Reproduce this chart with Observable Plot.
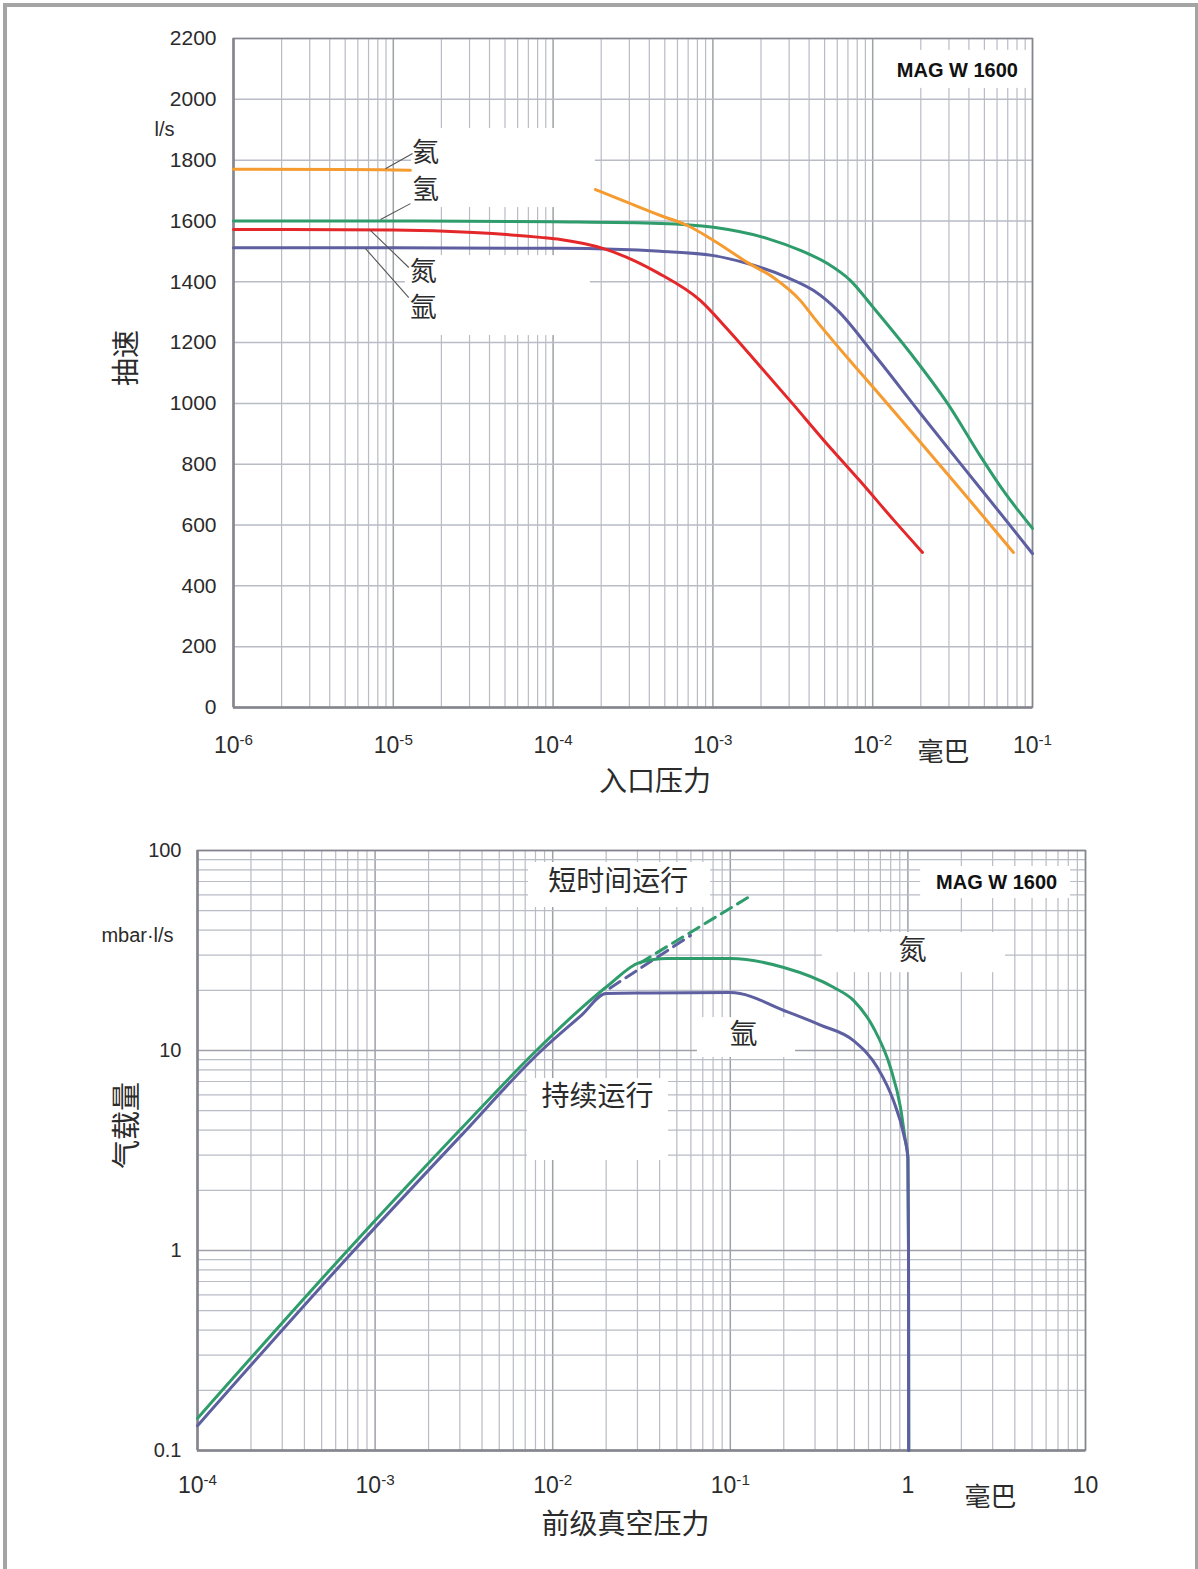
<!DOCTYPE html>
<html><head><meta charset="utf-8">
<script src="https://cdn.jsdelivr.net/npm/d3@7"></script>
<script src="https://cdn.jsdelivr.net/npm/@observablehq/plot@0.6"></script>
<style>
body{margin:0;background:#fff;}
#page{position:relative;width:1198px;height:1569px;overflow:hidden;background:#fff;}
#border{position:absolute;left:3px;top:3px;width:1188px;height:1600px;border-left:4px solid #a4a4a4;border-top:4px solid #a4a4a4;border-right:3px solid #a4a4a4;}
#top{position:absolute;left:0;top:0;}
#bottom{position:absolute;left:0;top:800px;}
</style></head>
<body><div id="page"><div id="border"></div><div id="top"></div><div id="bottom"></div></div>
<script>
// ---------------- data: upper chart (pumping speed vs inlet pressure) ----------------
const topPressureTicks = [1e-6, 1e-5, 1e-4, 1e-3, 1e-2, 1e-1];
const topPressureTickLabels = ["10^-6", "10^-5", "10^-4", "10^-3", "10^-2", "10^-1"];
const topSpeedTicks = [0, 200, 400, 600, 800, 1000, 1200, 1400, 1600, 1800, 2000, 2200];
const topSpeedTickLabels = ["0", "200", "400", "600", "800", "1000", "1200", "1400", "1600", "1800", "2000", "2200"];

// helium (氦) – gap where the label box hides the curve
const heliumP = [1e-6, 5e-6, 1.28e-5, 5e-5, 1.84e-4, 2.92e-4, 4.70e-4, 6.93e-4, 1.01e-3, 1.65e-3, 2.39e-3, 3.53e-3, 4.27e-3, 6.95e-3, 1.01e-2, 1.99e-2, 3.54e-2, 7.6e-2];
const heliumS = [1770, 1769, 1767, NaN, 1703, 1661, 1618, 1585, 1536, 1463, 1414, 1338, 1283, 1150, 1052, 872, 718, 510];
// hydrogen (氢)
const hydrogenP = [1e-6, 1e-5, 1e-4, 4.70e-4, 1.01e-3, 2.20e-3, 3.53e-3, 5.21e-3, 7.26e-3, 1.01e-2, 1.73e-2, 2.94e-2, 4.73e-2, 6.59e-2, 1e-1];
const hydrogenS = [1600, 1600, 1597, 1592, 1579, 1542, 1503, 1460, 1404, 1315, 1164, 1000, 826, 712, 589];
// nitrogen (氮)
const nitrogenP = [1e-6, 1e-5, 3.18e-5, 8.34e-5, 1.11e-4, 2.07e-4, 4.50e-4, 8.36e-4, 1.23e-3, 1.99e-3, 3.19e-3, 4.92e-3, 8.39e-3, 1.35e-2, 2.05e-2];
const nitrogenS = [1572, 1570, 1562, 1546, 1539, 1509, 1430, 1338, 1245, 1120, 996, 880, 743, 617, 510];
// argon (氩)
const argonP = [1e-6, 1e-5, 1.11e-4, 4.70e-4, 1.01e-3, 1.65e-3, 2.93e-3, 4.27e-3, 6.03e-3, 1.01e-2, 1.99e-2, 3.54e-2, 6.31e-2, 1e-1];
const argonS = [1512, 1512, 1510, 1500, 1486, 1460, 1414, 1371, 1306, 1164, 967, 802, 638, 506];

// ---------------- data: lower chart (gas throughput vs fore-vacuum pressure) ----------------
const botPressureTicks = [1e-4, 1e-3, 1e-2, 1e-1, 1, 10];
const botPressureTickLabels = ["10^-4", "10^-3", "10^-2", "10^-1", "1", "10"];
const botFlowTicks = [0.1, 1, 10, 100];
const botFlowTickLabels = ["0.1", "1", "10", "100"];

const n2ForeP = [1e-4, 7e-4, 3e-3, 8.1e-3, 1.45e-2, 2.06e-2, 3.08e-2, 4.4e-2, 0.1, 0.2, 0.381, 0.494, 0.640, 0.798, 0.908, 0.968, 1.0, 1.008, 1.011];
const n2ForeQ = [0.145, 1.0, 4.0, 10, 16.3, 21.2, 27.5, 28.8, 28.8, 26.0, 20.7, 17.8, 13.0, 8.2, 5.2, 3.55, 2.95, 1.0, 0.1];
const arForeP = [1e-4, 7.6e-4, 3e-3, 8.65e-3, 1.45e-2, 2.0e-2, 3.5e-2, 0.1, 0.21, 0.322, 0.494, 0.675, 0.830, 0.944, 1.0, 1.008, 1.011];
const arForeQ = [0.133, 1.0, 3.7, 10, 15.0, 19.3, 19.4, 19.5, 15.6, 13.4, 11.2, 8.2, 5.6, 3.85, 2.9, 1.0, 0.1];
// short-term operation (dashed)
const n2ShortP = [3.1e-2, 0.125];
const n2ShortQ = [27.4, 58];
const arShortP = [2.1e-2, 5.97e-2];
const arShortQ = [20.5, 37.6];

// ---------------- annotations ----------------
const topLabels = [
  {x: 1.59e-5, y: 1822, text: "氦"},
  {x: 1.59e-5, y: 1700, text: "氢"},
  {x: 1.54e-5, y: 1430, text: "氮"},
  {x: 1.54e-5, y: 1312, text: "氩"}
];
const topLeaders = [
  {x1: 8.93e-6, y1: 1772, x2: 1.32e-5, y2: 1822},
  {x1: 8.32e-6, y1: 1605, x2: 1.28e-5, y2: 1657},
  {x1: 7.19e-6, y1: 1569, x2: 1.25e-5, y2: 1447},
  {x1: 6.70e-6, y1: 1509, x2: 1.25e-5, y2: 1348}
];
const topBoxes = [
  {x1: 1.3e-5, x2: 1.84e-4, y1: 1644, y2: 1904},
  {x1: 1.19e-5, x2: 1.71e-4, y1: 1223, y2: 1486},
  {x1: 1.12e-2, x2: 9.3e-2, y1: 2036, y2: 2161}
];
const botLabels = [
  {x: 2.34e-2, y: 69.2, text: "短时间运行"},
  {x: 1.06, y: 31.6, text: "氮"},
  {x: 0.1186, y: 11.9, text: "氩"},
  {x: 1.79e-2, y: 5.82, text: "持续运行"}
];
const botBoxes = [
  {x1: 7.31e-3, x2: 7.74e-2, y1: 51.9, y2: 87.1},
  {x1: 0.330, x2: 3.55, y1: 24.5, y2: 38.9},
  {x1: 6.53e-2, x2: 0.233, y1: 9.23, y2: 14.6},
  {x1: 7.21e-3, x2: 4.49e-2, y1: 2.82, y2: 7.24},
  {x1: 1.18, x2: 8.24, y1: 57.5, y2: 83.2}
];

// ---------------- styling ----------------
const LATIN = "'Liberation Sans', Arial, Helvetica, sans-serif";
const CJK = "'Noto Sans CJK SC', 'Noto Sans', sans-serif";
const GRID = "#b9bbc5", GRID_MAJOR = "#9ea0aa", FRAME = "#85858d", TXT = "#2b2b2b";
const C_HE = "#f59b30", C_H2 = "#2f9c6c", C_N2 = "#e4282a", C_AR = "#5d5fa0";

const zip = (xs, ys) => xs.map((x, i) => ({x, y: ys[i]}));
function logGrid(lo, hi) {
  const out = [];
  for (let e = lo; e < hi; e++) for (let k = 2; k <= 9; k++) out.push(k * Math.pow(10, e));
  return out;
}
function superscripts(svg) {
  d3.select(svg).selectAll("text").each(function () {
    const m = /^10\^(-?\d+)$/.exec(this.textContent);
    if (!m) return;
    const s = d3.select(this);
    s.text(null);
    s.append("tspan").text("10");
    s.append("tspan").attr("dy", "-0.5em").attr("font-size", "0.66em").text(m[1]);
  });
}
const note = (txt, opts) => Plot.text([txt], {text: d => d, textAnchor: "middle", lineAnchor: "middle", fill: TXT, ...opts});

// ---------------- upper chart ----------------
const topPlot = Plot.plot({
  width: 1198, height: 800,
  marginTop: 38, marginBottom: 93, marginLeft: 233, marginRight: 166,
  style: {background: "transparent", fontFamily: LATIN},
  x: {type: "log", domain: [1e-6, 1e-1], axis: null},
  y: {domain: [0, 2200], axis: null},
  marks: [
    Plot.ruleX(logGrid(-6, -1), {stroke: GRID, strokeWidth: 1.2}),
    Plot.ruleX(topPressureTicks, {stroke: GRID_MAJOR, strokeWidth: 1.5}),
    Plot.ruleY(topSpeedTicks, {stroke: GRID, strokeWidth: 1.5}),
    Plot.rect(topBoxes, {x1: "x1", x2: "x2", y1: "y1", y2: "y2", fill: "white"}),
    Plot.frame({stroke: FRAME, strokeWidth: 1.5}),
    Plot.ruleX([1e-6], {stroke: FRAME, strokeWidth: 2.5}),
    Plot.ruleY([0], {stroke: FRAME, strokeWidth: 2.5}),
    Plot.line(zip(argonP, argonS), {x: "x", y: "y", stroke: C_AR, strokeWidth: 3, curve: "monotone-x"}),
    Plot.line(zip(hydrogenP, hydrogenS), {x: "x", y: "y", stroke: C_H2, strokeWidth: 3, curve: "monotone-x"}),
    Plot.line(zip(heliumP, heliumS), {x: "x", y: "y", stroke: C_HE, strokeWidth: 3, curve: "monotone-x"}),
    Plot.line(zip(nitrogenP, nitrogenS), {x: "x", y: "y", stroke: C_N2, strokeWidth: 3, curve: "monotone-x"}),
    Plot.link(topLeaders, {x1: "x1", y1: "y1", x2: "x2", y2: "y2", stroke: "#555", strokeWidth: 1.1}),
    Plot.text(topLabels, {x: "x", y: "y", text: "text", fontFamily: CJK, fontSize: 27, fill: TXT}),
    Plot.text(["MAG W 1600"], {x: 3.39e-2, y: 2095, text: d => d, fontFamily: LATIN, fontWeight: "bold", fontSize: 20, fill: "#111"}),
    Plot.axisY(topSpeedTicks, {tickSize: 0, tickPadding: 17, fontSize: 21, color: TXT, label: null,
      tickFormat: d => topSpeedTickLabels[topSpeedTicks.indexOf(d)]}),
    Plot.axisX(topPressureTicks, {tickSize: 0, tickPadding: 29, fontSize: 23, color: TXT, label: null,
      tickFormat: d => topPressureTickLabels[topPressureTicks.indexOf(d)]}),
    note("l/s", {y: 1900, frameAnchor: "left", dx: -69, fontSize: 20, fontFamily: LATIN}),
    note("毫巴", {frameAnchor: "bottom-right", dx: -89, dy: 45, fontSize: 26, fontFamily: CJK}),
    note("入口压力", {frameAnchor: "bottom", dx: 22, dy: 75, fontSize: 28, fontFamily: CJK}),
    note("抽速", {frameAnchor: "left", dx: -106, dy: -15, rotate: -90, fontSize: 28, fontFamily: CJK})
  ]
});
superscripts(topPlot);
document.getElementById("top").appendChild(topPlot);

// ---------------- lower chart ----------------
const botPlot = Plot.plot({
  width: 1198, height: 769,
  marginTop: 50, marginBottom: 119, marginLeft: 197, marginRight: 113,
  style: {background: "transparent", fontFamily: LATIN},
  x: {type: "log", domain: [1e-4, 10], axis: null},
  y: {type: "log", domain: [0.1, 100], axis: null},
  marks: [
    Plot.ruleX(logGrid(-4, 1), {stroke: GRID, strokeWidth: 1.2}),
    Plot.ruleX(botPressureTicks, {stroke: GRID_MAJOR, strokeWidth: 1.5}),
    Plot.ruleY(logGrid(-1, 2), {stroke: GRID, strokeWidth: 1.2}),
    Plot.ruleY(botFlowTicks, {stroke: GRID_MAJOR, strokeWidth: 1.5}),
    Plot.rect(botBoxes, {x1: "x1", x2: "x2", y1: "y1", y2: "y2", fill: "white"}),
    Plot.frame({stroke: FRAME, strokeWidth: 1.5}),
    Plot.ruleX([1e-4], {stroke: FRAME, strokeWidth: 2.5}),
    Plot.ruleY([0.1], {stroke: FRAME, strokeWidth: 2.5}),
    Plot.line(zip(n2ShortP, n2ShortQ), {x: "x", y: "y", stroke: C_H2, strokeWidth: 3, strokeDasharray: "12,7"}),
    Plot.line(zip(arShortP, arShortQ), {x: "x", y: "y", stroke: C_AR, strokeWidth: 3, strokeDasharray: "12,7"}),
    Plot.line(zip(n2ForeP, n2ForeQ), {x: "x", y: "y", stroke: C_H2, strokeWidth: 3, curve: "monotone-x"}),
    Plot.line(zip(arForeP, arForeQ), {x: "x", y: "y", stroke: C_AR, strokeWidth: 3, curve: "monotone-x"}),
    Plot.text(botLabels, {x: "x", y: "y", text: "text", fontFamily: CJK, fontSize: 28, fill: TXT}),
    Plot.text(["MAG W 1600"], {x: 3.16, y: 69.2, text: d => d, fontFamily: LATIN, fontWeight: "bold", fontSize: 20, fill: "#111"}),
    Plot.axisY(botFlowTicks, {tickSize: 0, tickPadding: 16, fontSize: 20, color: TXT, label: null,
      tickFormat: d => botFlowTickLabels[botFlowTicks.indexOf(d)]}),
    Plot.axisX(botPressureTicks, {tickSize: 0, tickPadding: 26, fontSize: 23, color: TXT, label: null,
      tickFormat: d => botPressureTickLabels[botPressureTicks.indexOf(d)]}),
    note("mbar·l/s", {y: 37.6, frameAnchor: "left", dx: -60, fontSize: 20, fontFamily: LATIN}),
    note("毫巴", {frameAnchor: "bottom-right", dx: -95, dy: 47, fontSize: 26, fontFamily: CJK}),
    note("前级真空压力", {frameAnchor: "bottom", dx: -16, dy: 75, fontSize: 28, fontFamily: CJK}),
    note("气载量", {frameAnchor: "left", dx: -70, dy: -25, rotate: -90, fontSize: 29, fontFamily: CJK})
  ]
});
superscripts(botPlot);
document.getElementById("bottom").appendChild(botPlot);
</script>
</body></html>
